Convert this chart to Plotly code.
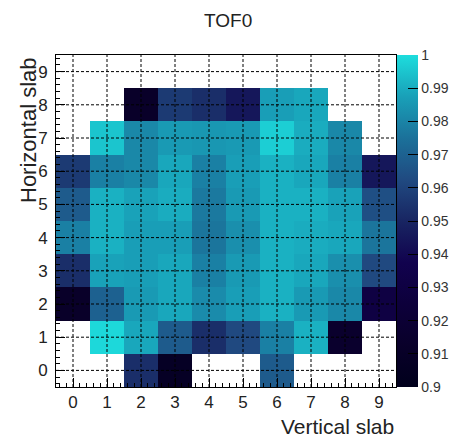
import plotly.graph_objects as go

x_slabs = [0, 1, 2, 3, 4, 5, 6, 7, 8, 9]
y_slabs = [0, 1, 2, 3, 4, 5, 6, 7, 8, 9]

N = None
z_row0 = [N, N, 0.953, 0.908, N, N, 0.968, N, N, N]
z_row1 = [N, 0.999, 0.989, 0.968, 0.953, 0.962, 0.979, 0.991, 0.915, N]
z_row2 = [0.912, 0.970, 0.986, 0.989, 0.982, 0.987, 0.991, 0.986, 0.981, 0.930]
z_row3 = [0.953, 0.988, 0.987, 0.989, 0.979, 0.986, 0.991, 0.989, 0.983, 0.962]
z_row4 = [0.979, 0.991, 0.987, 0.987, 0.976, 0.983, 0.991, 0.990, 0.989, 0.976]
z_row5 = [0.968, 0.991, 0.988, 0.990, 0.977, 0.986, 0.991, 0.991, 0.988, 0.964]
z_row6 = [0.957, 0.979, 0.981, 0.989, 0.979, 0.987, 0.991, 0.989, 0.979, 0.945]
z_row7 = [N, 0.995, 0.981, 0.986, 0.985, 0.986, 0.997, 0.990, 0.981, N]
z_row8 = [N, N, 0.912, 0.957, 0.953, 0.945, 0.987, 0.989, N, N]
z_row9 = [N] * 10
z = [z_row0, z_row1, z_row2, z_row3, z_row4, z_row5, z_row6, z_row7, z_row8, z_row9]

cbar_ticks = [0.9, 0.91, 0.92, 0.93, 0.94, 0.95, 0.96, 0.97, 0.98, 0.99, 1.0]
cbar_labels = ["0.9", "0.91", "0.92", "0.93", "0.94", "0.95", "0.96", "0.97", "0.98", "0.99", "1"]

# ROOT kDeepSea palette
deepsea = [
    [0.0, "rgb(0,0,28)"], [0.125, "rgb(9,0,42)"], [0.25, "rgb(13,0,59)"],
    [0.375, "rgb(17,2,78)"], [0.5, "rgb(24,37,98)"], [0.625, "rgb(32,74,129)"],
    [0.75, "rgb(27,113,154)"], [0.875, "rgb(25,160,184)"], [1.0, "rgb(29,221,221)"],
]

FONT = "Liberation Sans, Arial, sans-serif"

fig = go.Figure()
fig.add_trace(go.Heatmap(
    x=x_slabs, y=y_slabs, z=z, zmin=0.9, zmax=1.0, colorscale=deepsea,
    hoverongaps=False,
    colorbar=dict(
        x=1.003, xanchor="left", xpad=0, y=0.5, yanchor="middle", len=1, ypad=0,
        thickness=21, outlinewidth=0,
        tickvals=cbar_ticks, ticktext=cbar_labels,
        ticks="inside", ticklen=10, tickcolor="black", tickwidth=1,
        tickfont=dict(family=FONT, size=14, color="#333"),
    ),
))

# grid lines drawn on top of the cells (as ROOT does)
gx, gy = [], []
for v in x_slabs:
    gx += [v, v, None]
    gy += [-0.5, 9.5, None]
for v in y_slabs:
    gx += [-0.5, 9.5, None]
    gy += [v, v, None]
fig.add_trace(go.Scatter(x=gx, y=gy, mode="lines", hoverinfo="skip", showlegend=False,
                         line=dict(color="black", width=1, dash="3px,2px")))

axis_common = dict(
    range=[-0.5, 9.5], showgrid=False, zeroline=False,
    showline=True, linecolor="black", linewidth=1, mirror=True,
    ticks="inside", ticklen=9, tickcolor="black", tickwidth=1,
    tickmode="array", tickvals=x_slabs,
    minor=dict(ticks="inside", ticklen=4, dtick=0.2, tick0=0, tickcolor="black", showgrid=False),
    tickfont=dict(family=FONT, size=17, color="#222"),
)

fig.update_layout(
    width=450, height=438,
    margin=dict(l=56, r=54, t=55, b=51, autoexpand=False),
    paper_bgcolor="white", plot_bgcolor="white",
    showlegend=False,
    title=dict(text="TOF0", x=0.507, xanchor="center", y=1 - 20 / 438, yanchor="middle",
               yref="container", font=dict(family=FONT, size=19, color="#222")),
    xaxis=dict(**axis_common, ticklabelstandoff=0),
    yaxis=dict(**axis_common, ticklabelstandoff=4),
    annotations=[
        dict(text="Vertical slab", xref="paper", yref="paper", x=1, y=0, xanchor="right",
             yanchor="middle", yshift=-39, showarrow=False,
             font=dict(family=FONT, size=21, color="#222")),
        dict(text="Horizontal slab", xref="paper", yref="paper", x=0, y=1, xanchor="center",
             yanchor="top", xshift=-28, textangle=-90, showarrow=False,
             font=dict(family=FONT, size=22, color="#222")),
    ],
)

fig.write_html("out.html")
